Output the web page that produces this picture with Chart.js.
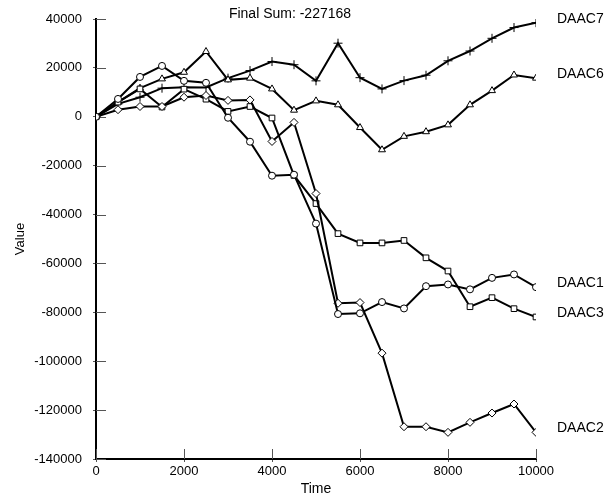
<!DOCTYPE html>
<html>
<head>
<meta charset="utf-8">
<script src="https://cdn.jsdelivr.net/npm/chart.js@4/dist/chart.umd.min.js"></script>
<style>
  html, body { margin: 0; padding: 0; background: #fff; }
  #wrap { width: 616px; height: 500px; position: relative; }
</style>
</head>
<body>
<div id="wrap"><canvas id="c" width="616" height="500"></canvas></div>
<script>
// ---- data ----
const times = [0, 500, 1000, 1500, 2000, 2500, 3000, 3500, 4000, 4500, 5000,
               5500, 6000, 6500, 7000, 7500, 8000, 8500, 9000, 9500, 10000];
const seriesNames = ["DAAC1", "DAAC2", "DAAC3", "DAAC6", "DAAC7"];
const daac1 = [0, 7300, 16300, 20800, 14700, 13900, -400, -10200, -24100, -23700, -43700,
               -80700, -80400, -75800, -78400, -69300, -68600, -70600, -65900, -64500, -69700];
const daac2 = [0, 2900, 4200, 4200, 8000, 8700, 6700, 6900, -10100, -2300, -31400,
               -76300, -76000, -96700, -126800, -126800, -129100, -125000, -121200, -117500, -129100];
const daac3 = [0, 6000, 11400, 4000, 11300, 7200, 2200, 4200, -500, -24000, -35500,
               -47800, -51600, -51600, -50600, -57700, -63100, -77700, -74000, -78500, -81900];
const daac6 = [0, 6000, 11700, 15500, 18200, 26700, 15100, 15800, 11400, 2700, 6500,
               4900, -4400, -13500, -8000, -6100, -3300, 4900, 10700, 17100, 15800];
const daac7 = [0, 5300, 8000, 11700, 12100, 12000, 15800, 18900, 22600, 21300, 14700,
               30100, 16000, 11400, 14800, 17000, 22900, 26900, 32100, 36500, 38500];
const xTicks = [0, 2000, 4000, 6000, 8000, 10000];
const yTicks = [-140000, -120000, -100000, -80000, -60000, -40000, -20000, 0, 20000, 40000];
const titleText = "Final Sum: -227168";
const xTitle = "Time";
const yTitle = "Value";

const allSeries = [daac1, daac2, daac3, daac6, daac7];
const markers = ["circle", "rectRot", "rect", "triangle", "cross"];

const FONT = "'Liberation Sans', Arial, sans-serif";

const datasets = allSeries.map((vals, i) => ({
  label: seriesNames[i],
  data: times.map((t, k) => ({ x: t, y: vals[k] })),
  borderColor: "#000",
  borderWidth: 2,
  backgroundColor: "#fff",
  pointStyle: markers[i],
  pointRadius: markers[i] === "cross" ? 4.5 : (markers[i] === "circle" ? 3.5 : 4),
  pointBorderWidth: 1,
  pointBorderColor: "#000",
  pointBackgroundColor: "#fff",
  tension: 0,
  fill: false,
  clip: { left: 0, top: 0, right: 0, bottom: 0 }
}));

const decor = {
  id: "decor",
  beforeDatasetsDraw(chart) {
    const { ctx, chartArea, scales } = chart;
    ctx.save();
    ctx.strokeStyle = "#555";
    ctx.lineWidth = 1;
    scales.y.ticks.forEach(t => {
      const py = Math.round(scales.y.getPixelForValue(t.value)) + 0.5;
      ctx.beginPath();
      ctx.moveTo(chartArea.left, py);
      ctx.lineTo(chartArea.left + 10, py);
      ctx.stroke();
    });
    scales.x.ticks.forEach(t => {
      const px = Math.round(scales.x.getPixelForValue(t.value)) + 0.5;
      ctx.beginPath();
      ctx.moveTo(px, chartArea.bottom);
      ctx.lineTo(px, chartArea.bottom - 10);
      ctx.stroke();
    });
    ctx.restore();
  },
  afterDraw(chart) {
    const { ctx, chartArea, scales } = chart;
    ctx.save();
    ctx.fillStyle = "#000";
    ctx.font = "14px " + FONT;
    ctx.textAlign = "center";
    ctx.textBaseline = "middle";
    ctx.fillText(titleText, 290, 14);
    ctx.textAlign = "left";
    ctx.textBaseline = "alphabetic";
    allSeries.forEach((vals, i) => {
      const py = scales.y.getPixelForValue(vals[vals.length - 1]);
      ctx.fillText(seriesNames[i], chartArea.right + 21, py);
    });
    ctx.font = "14px " + FONT;
    ctx.textAlign = "center";
    ctx.textBaseline = "middle";
    ctx.fillText(xTitle, (chartArea.left + chartArea.right) / 2, 489);
    ctx.translate(20, (chartArea.top + chartArea.bottom) / 2);
    ctx.rotate(-Math.PI / 2);
    ctx.font = "13px " + FONT;
    ctx.fillText(yTitle, 0, 0);
    ctx.restore();
  }
};

new Chart(document.getElementById("c"), {
  type: "line",
  data: { datasets },
  plugins: [decor],
  options: {
    responsive: false,
    animation: false,
    devicePixelRatio: 1,
    layout: { padding: { left: 0, top: 19, right: 80, bottom: 0 } },
    plugins: { legend: { display: false }, title: { display: false }, tooltip: { enabled: false } },
    scales: {
      x: {
        type: "linear",
        min: 0, max: 10000,
        afterBuildTicks(scale) { scale.ticks = xTicks.map(v => ({ value: v })); },
        afterFit(scale) { scale.height = 41; },
        ticks: { color: "#000", font: { family: FONT, size: 13 }, padding: 2, maxRotation: 0,
                 callback: v => String(v) },
        grid: { drawOnChartArea: false, drawTicks: true, tickLength: 3, color: "#555", lineWidth: 1 },
        border: { display: true, color: "#000", width: 2 }
      },
      y: {
        type: "linear",
        min: -140000, max: 40000,
        afterBuildTicks(scale) { scale.ticks = yTicks.map(v => ({ value: v })); },
        afterFit(scale) { scale.width = 96; },
        ticks: { color: "#000", font: { family: FONT, size: 13 }, padding: 11,
                 callback: v => String(v) },
        grid: { drawOnChartArea: false, drawTicks: true, tickLength: 3, color: "#555", lineWidth: 1 },
        border: { display: true, color: "#000", width: 2 }
      }
    }
  }
});
</script>
</body>
</html>
